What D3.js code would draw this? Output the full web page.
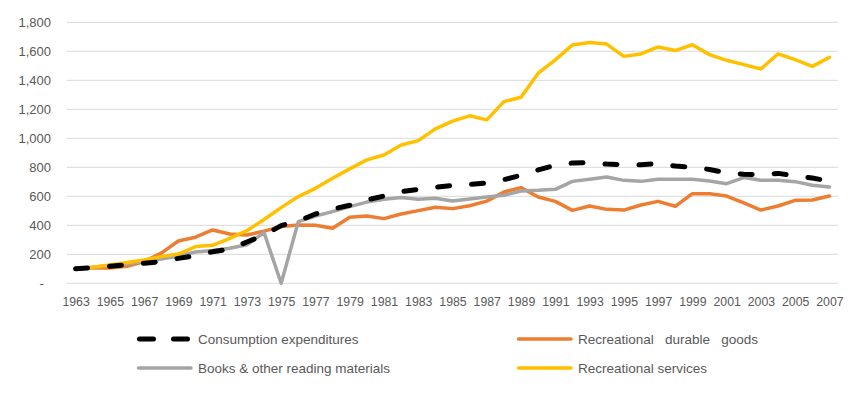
<!doctype html>
<html>
<head>
  <script src="https://d3js.org/d3.v7.min.js"></script>
  <style>
    body { margin: 0; background: #fff; }
    text { font-family: "Liberation Sans", Arial, sans-serif; fill: #595959; }
  </style>
</head>
<body>
<script>

  // years 1963 - 2007
  var years = d3.range(1963, 2008);
  var yTicks = [0, 200, 400, 600, 800, 1000, 1200, 1400, 1600, 1800];

  var consumption = [100, 108, 118, 128, 138, 150, 172, 190, 218, 235, 285, 333, 398, 430, 478,
    512, 538, 575, 602, 632, 648, 662, 675, 682, 692, 715, 745, 782, 814, 830,
    832, 822, 818, 818, 825, 809, 800, 785, 762, 752, 750, 758, 742, 726, 705];

  var durable = [100, 108, 105, 118, 150, 208, 292, 318, 368, 340, 333, 360, 391, 402, 400,
    379, 455, 464, 446, 478, 501, 524, 515, 535, 567, 630, 660, 595, 565, 503,
    533, 510, 505, 540, 565, 531, 618, 618, 602, 554, 505, 533, 572, 574, 602];

  var books = [100, 110, 122, 135, 150, 168, 188, 216, 226, 242, 266, 350, 0, 425, 464,
    494, 529, 560, 579, 591, 579, 586, 568, 582, 595, 607, 637, 641, 648, 703,
    717, 733, 710, 703, 717, 717, 717, 706, 687, 729, 710, 710, 701, 676, 664];

  var services = [100, 110, 126, 143, 161, 184, 202, 253, 262, 310, 363, 440, 522, 598, 655,
    724, 789, 851, 885, 954, 984, 1065, 1118, 1155, 1127, 1253, 1283, 1449, 1541, 1644,
    1660, 1650, 1565, 1582, 1630, 1605, 1645, 1577, 1538, 1508, 1478, 1582, 1542, 1496, 1558];

  var series = [
    { name: "Recreational\u00a0\u00a0 durable\u00a0\u00a0 goods", values: durable, color: "#ED7D31", width: 3.5 },
    { name: "Books & other reading materials", values: books, color: "#A5A5A5", width: 3.5 },
    { name: "Recreational services", values: services, color: "#FFC000", width: 3.5 },
    { name: "Consumption expenditures", values: consumption, color: "#000000", width: 5, dash: "12,22" }
  ];

  var svg = d3.select("body").append("svg")
      .attr("width", 866)
      .attr("height", 394);

  var x = d3.scalePoint()
      .domain(years)
      .range([67, 838])
      .padding(0.5);

  var y = d3.scaleLinear()
      .domain([0, 1800])
      .range([283.3, 22.3]);

  // gridlines
  svg.append("g")
    .selectAll("line")
    .data(yTicks)
    .enter().append("line")
      .attr("x1", 67).attr("x2", 838)
      .attr("y1", function (d) { return y(d); })
      .attr("y2", function (d) { return y(d); })
      .attr("stroke", "#D9D9D9")
      .attr("stroke-width", 1);

  // y axis
  var yAxis = svg.append("g")
      .attr("transform", "translate(51,0)")
      .call(d3.axisLeft(y).tickValues(yTicks).tickSize(0).tickPadding(0)
        .tickFormat(function (d) { return d === 0 ? "-  " : d3.format(",")(d); }));
  yAxis.select(".domain").remove();
  yAxis.selectAll("text")
      .attr("font-size", 13)
      .attr("font-family", null)
      .attr("fill", null)
      .attr("dy", "0.36em")
      .style("white-space", "pre");

  // x axis
  var xAxis = svg.append("g")
      .attr("transform", "translate(0,283.3)")
      .call(d3.axisBottom(x)
        .tickValues(years.filter(function (d) { return (d - 1963) % 2 === 0; }))
        .tickSize(0).tickPadding(0));
  xAxis.select(".domain").remove();
  xAxis.selectAll("text")
      .attr("font-size", 12.3)
      .attr("font-family", null)
      .attr("fill", null)
      .attr("y", 22.5)
      .attr("dy", null);

  var line = d3.line()
      .x(function (d, i) { return x(years[i]); })
      .y(function (d) { return y(d); });

  svg.append("g")
    .selectAll("path")
    .data(series)
    .enter().append("path")
      .attr("d", function (d) { return line(d.values); })
      .attr("fill", "none")
      .attr("stroke", function (d) { return d.color; })
      .attr("stroke-width", function (d) { return d.width; })
      .attr("stroke-dasharray", function (d) { return d.dash || null; })
      .attr("stroke-linecap", "round")
      .attr("stroke-linejoin", "round");

  // legend (two columns, Excel order)
  var legendItems = [
    { s: series[3], x: 137, y: 339 },
    { s: series[0], x: 517, y: 339 },
    { s: series[1], x: 137, y: 368 },
    { s: series[2], x: 517, y: 368 }
  ];

  var legend = svg.append("g")
    .selectAll("g")
    .data(legendItems)
    .enter().append("g")
      .attr("transform", function (d) { return "translate(" + d.x + "," + d.y + ")"; });

  legend.append("line")
      .attr("x1", function (d) { return d.s.dash ? 2.5 : 1.5; })
      .attr("x2", function (d) { return d.s.dash ? 53 : 54; })
      .attr("y1", 0).attr("y2", 0)
      .attr("stroke", function (d) { return d.s.color; })
      .attr("stroke-width", function (d) { return d.s.width; })
      .attr("stroke-dasharray", function (d) { return d.s.dash ? "14,20" : null; })
      .attr("stroke-linecap", "round");

  legend.append("text")
      .attr("x", 61)
      .attr("y", 4.5)
      .attr("font-size", 13.5)
      .text(function (d) { return d.s.name; });

</script>
</body>
</html>
